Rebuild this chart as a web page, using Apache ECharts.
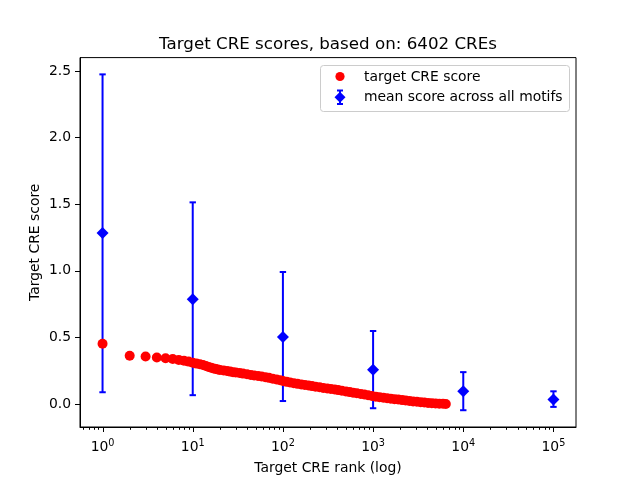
<!DOCTYPE html>
<html>
<head>
<meta charset="utf-8">
<script src="https://cdn.jsdelivr.net/npm/echarts@6/dist/echarts.min.js"></script>
<style>html,body{margin:0;padding:0;background:#fff;}#c{width:640px;height:480px;}</style>
</head>
<body>
<div id="c"></div>
<script>
// Red points: target CRE score by rank
const ranks = [1,2,3,4,5,6,7,8,9,10,11,12,13,14,15,16,17,18,19,20,22,24,26,28,30,33,36,40,44,48,53,58,64,70,77,85,93,100,110,120,132,145,160,175,192,210,230,255,280,310,340,375,410,450,500,550,600,660,730,800,880,970,1070,1180,1300,1430,1570,1730,1900,2100,2300,2530,2780,3060,3370,3700,4070,4480,4930,5420,5960,6402];
const scores = [0.452,0.362,0.356,0.349,0.343,0.337,0.331,0.325,0.318,0.309,0.303,0.298,0.292,0.285,0.278,0.272,0.267,0.263,0.259,0.255,0.251,0.247,0.243,0.239,0.236,0.232,0.228,0.223,0.218,0.214,0.210,0.206,0.201,0.196,0.190,0.184,0.178,0.172,0.166,0.161,0.156,0.151,0.146,0.142,0.138,0.134,0.129,0.125,0.120,0.116,0.112,0.108,0.104,0.099,0.094,0.089,0.085,0.080,0.075,0.071,0.066,0.060,0.055,0.051,0.047,0.043,0.040,0.036,0.033,0.029,0.026,0.022,0.019,0.016,0.013,0.011,0.008,0.006,0.004,0.002,0.001,0.000];
// Blue diamonds: mean score across all motifs with error bars
const meanRanks = [1,10,100,1000,10000,100000];
const meanScores = [1.283,0.787,0.502,0.256,0.096,0.034];
const errLow = [0.088,0.066,0.022,-0.032,-0.047,-0.022];
const errHigh = [2.475,1.514,0.991,0.548,0.239,0.095];
// Axis ticks
const xMajorTicks = [1,10,100,1000,10000,100000];
const yMin = -0.173, yMax = 2.601, xMin = 0.5623, xMax = 177828;
const legendLabels = ['target CRE score', 'mean score across all motifs'];

const xMinorTicks = [];
for (let k = -1; k <= 5; k++) {
  for (let m = 2; m <= 9; m++) {
    const v = m * Math.pow(10, k);
    if (v > xMin && v < xMax) xMinorTicks.push(v);
  }
}
const tickData = xMajorTicks.map(v => [v, yMin, 5]).concat(xMinorTicks.map(v => [v, yMin, 2.8]));

const FONT = 'DejaVu Sans';
const chart = echarts.init(document.getElementById('c'), null, {renderer: 'canvas'});
const blueSt = {stroke: '#0000ff', lineWidth: 2};

chart.setOption({
  animation: false,
  backgroundColor: '#fff',
  title: {
    text: 'Target CRE scores, based on: 6402 CREs',
    left: 328, top: 36, textAlign: 'center', padding: 0,
    textStyle: {fontFamily: FONT, fontSize: 16.7, fontWeight: 'normal', color: '#000'}
  },
  graphic: [{
    type: 'group', z: 50, silent: true,
    children: [
      {type: 'rect', shape: {x: 320.5, y: 65.5, width: 249, height: 46, r: 3},
       style: {fill: 'rgba(255,255,255,0.8)', stroke: '#cccccc', lineWidth: 1}},
      {type: 'circle', shape: {cx: 340, cy: 76.5, r: 4.6}, style: {fill: '#ff0000'}},
      {type: 'line', shape: {x1: 340, y1: 90.5, x2: 340, y2: 104}, style: blueSt},
      {type: 'line', shape: {x1: 337, y1: 90.5, x2: 343, y2: 90.5}, style: blueSt},
      {type: 'line', shape: {x1: 337, y1: 104, x2: 343, y2: 104}, style: blueSt},
      {type: 'polygon', shape: {points: [[340, 91.8], [345.5, 97.3], [340, 102.8], [334.5, 97.3]]}, style: {fill: '#0000ff'}},
      {type: 'text', x: 364, y: 77, style: {text: legendLabels[0], fontFamily: FONT, fontSize: 13.9, fill: '#000', verticalAlign: 'middle'}},
      {type: 'text', x: 364, y: 97.8, style: {text: legendLabels[1], fontFamily: FONT, fontSize: 13.9, fill: '#000', verticalAlign: 'middle'}}
    ]
  }],
  grid: {left: 80, right: 64, top: 57.6, bottom: 52.8, show: true, borderColor: '#000', borderWidth: 1, backgroundColor: 'transparent'},
  xAxis: {
    type: 'log', logBase: 10, min: xMin, max: xMax, splitNumber: 5,
    name: 'Target CRE rank (log)', nameLocation: 'middle', nameGap: 34, nameMoveOverlap: false,
    nameTextStyle: {fontFamily: FONT, fontSize: 13.9, color: '#000'},
    axisLine: {show: true, onZero: false, lineStyle: {color: '#000', width: 1}},
    axisTick: {show: false},
    splitLine: {show: false},
    axisLabel: {
      showMinLabel: false, showMaxLabel: false, margin: 11,
      fontFamily: FONT, fontSize: 13.9, color: '#000',
      formatter: function (v) {
        const e = Math.round(Math.log10(v));
        if (Math.abs(Math.pow(10, e) - v) / v > 1e-6) return '';
        return '10{s|' + e + '}';
      },
      rich: {s: {fontFamily: FONT, fontSize: 9.7, color: '#000', padding: [0, 0, 8, 0]}}
    }
  },
  yAxis: {
    type: 'value', min: yMin, max: yMax, splitNumber: 6,
    name: 'Target CRE score', nameLocation: 'middle', nameGap: 38, nameMoveOverlap: false,
    nameTextStyle: {fontFamily: FONT, fontSize: 13.9, color: '#000'},
    axisLine: {show: true, onZero: false, lineStyle: {color: '#000', width: 1}},
    axisTick: {show: true, length: 5, lineStyle: {color: '#000', width: 1}},
    splitLine: {show: false},
    axisLabel: {
      showMinLabel: false, showMaxLabel: false, margin: 9,
      fontFamily: FONT, fontSize: 13.9, color: '#000',
      formatter: v => v.toFixed(1)
    }
  },
  series: [{
    type: 'custom', name: 'errbars', z: 2, clip: false, silent: true,
    data: meanRanks.map((r, i) => [r, errLow[i], errHigh[i]]),
    encode: {x: 0, y: [1, 2]},
    renderItem: function (params, api) {
      const lo = api.coord([api.value(0), api.value(1)]);
      const hi = api.coord([api.value(0), api.value(2)]);
      return {type: 'group', children: [
        {type: 'line', shape: {x1: lo[0], y1: lo[1], x2: hi[0], y2: hi[1]}, style: blueSt},
        {type: 'line', shape: {x1: lo[0] - 3.2, y1: lo[1], x2: lo[0] + 3.2, y2: lo[1]}, style: blueSt},
        {type: 'line', shape: {x1: hi[0] - 3.2, y1: hi[1], x2: hi[0] + 3.2, y2: hi[1]}, style: blueSt}
      ]};
    }
  }, {
    type: 'scatter', name: legendLabels[1], z: 3,
    symbol: 'diamond', symbolSize: 12,
    itemStyle: {color: '#0000ff', opacity: 1},
    data: meanRanks.map((r, i) => [r, meanScores[i]])
  }, {
    type: 'scatter', name: legendLabels[0], z: 4,
    symbol: 'circle', symbolSize: 10,
    itemStyle: {color: '#ff0000', opacity: 1},
    data: ranks.map((r, i) => [r, scores[i]])
  }, {
    type: 'custom', name: 'xticks', z: 5, clip: false, silent: true,
    data: tickData,
    encode: {x: 0, y: 1},
    renderItem: function (params, api) {
      const p = api.coord([api.value(0), api.value(1)]);
      const x = Math.round(p[0]) + 0.5;
      return {type: 'line', shape: {x1: x, y1: p[1], x2: x, y2: p[1] + api.value(2)},
        style: {stroke: '#000', lineWidth: 1}};
    }
  }]
});
</script>
</body>
</html>
